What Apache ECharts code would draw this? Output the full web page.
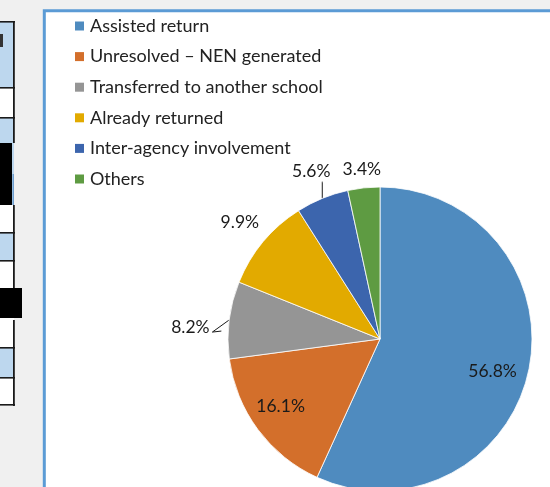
<!DOCTYPE html>
<html>
<head>
<meta charset="utf-8">
<script src="https://cdn.jsdelivr.net/npm/echarts@6/dist/echarts.min.js"></script>
<style>
html,body{margin:0;padding:0;background:#f0f0f0;}
#chart{width:550px;height:487px;}
</style>
</head>
<body>
<div id="chart"></div>
<script>
// ---- data ----
const categories = ['Assisted return', 'Unresolved \u2013 NEN generated', 'Transferred to another school', 'Already returned', 'Inter-agency involvement', 'Others'];
const values = [56.8, 16.1, 8.2, 9.9, 5.6, 3.4];

// ---- styles ----
const colors = ['#4f8bbf', '#d36f2b', '#959595', '#e2aa00', '#3c65ad', '#5e9b42'];
const FONT = 'Lato';
const CX = 380, CY = 339, R = 152;
// label placement: inside/outside, radial factor, small angular turn (deg), leader type
const labelStyle = [
  { pos: 'inside', f: 0.77, turn: 3.6, line: null },
  { pos: 'inside', f: 0.79, turn: 2.4, line: null },
  { pos: 'outside', f: 1.25, turn: -3.6, line: 'tri' },
  { pos: 'outside', f: 1.20, turn: 0, line: null },
  { pos: 'outside', f: 1.19, turn: 0, line: 'up' },
  { pos: 'outside', f: 1.12, turn: 0, line: null }
];

const chart = echarts.init(document.getElementById('chart'), null, { renderer: 'canvas' });

const total = values.reduce((a, b) => a + b, 0);
function midAngle(i) {
  let s = 0;
  for (let k = 0; k < i; k++) s += values[k];
  return (s + values[i] / 2) / total * 360;
}

// decorative left table (part of the screenshot)
const tableGraphics = [];
function rect(x, y, w, h, fill) {
  tableGraphics.push({ type: 'rect', shape: { x, y, width: w, height: h }, style: { fill }, silent: true });
}
const BLUE = '#bdd7ee', WHITE = '#ffffff', INK = '#1a1a1a';
rect(0, 22, 14, 65, BLUE);
rect(0, 88, 14, 29, WHITE);
rect(0, 118, 14, 25, BLUE);
rect(0, 143, 14, 62, BLUE);
rect(0, 205, 14, 27, WHITE);
rect(0, 233, 14, 27, BLUE);
rect(0, 261, 14, 57, WHITE);
rect(0, 318, 14, 29, WHITE);
rect(0, 348, 14, 29, BLUE);
rect(0, 378, 14, 26, WHITE);
[21, 87, 117, 232, 260, 347, 377, 404].forEach(y => rect(0, y, 15, 1.6, INK));
rect(13, 21, 1.8, 122, INK);
rect(13, 205, 1.8, 83, INK);
rect(13, 320, 1.8, 86, INK);
rect(0, 143, 12, 31, '#000000');
rect(0, 174, 12, 31, '#000000');
rect(12.5, 174, 1.5, 31, '#6f9fd0');
rect(0, 288, 22, 30, '#000000');
rect(0, 34, 3, 13, '#333333');

const option = {
  backgroundColor: '#f0f0f0',
  animation: false,
  color: colors,
  graphic: [
    { type: 'rect', z: -10, shape: { x: 44.3, y: 10.7, width: 530, height: 500 },
      style: { fill: '#ffffff', stroke: '#5b9bd5', lineWidth: 3 }, silent: true }
  ].concat(tableGraphics),
  legend: {
    orient: 'vertical',
    left: 70,
    top: 11,
    itemWidth: 9,
    itemHeight: 9,
    itemGap: 10.6,
    icon: 'rect',
    selectedMode: false,
    itemStyle: { borderWidth: 0 },
    textStyle: { fontFamily: FONT, fontSize: 18, color: '#222222', lineHeight: 20, padding: [0, 0, 0, 1] },
    data: categories
  },
  series: [{
    type: 'pie',
    center: [CX, CY],
    radius: R,
    startAngle: 90,
    clockwise: true,
    silent: true,
    emphasis: { disabled: true },
    itemStyle: { borderColor: '#ffffff', borderWidth: 0.8 },
    label: {
      show: true,
      formatter: '{c}%',
      fontFamily: FONT,
      fontSize: 17.5,
      color: '#1a1a1a'
    },
    labelLine: { show: true, lineStyle: { color: '#1a1a1a', width: 1 } },
    data: categories.map((name, i) => ({
      name,
      value: values[i],
      label: { position: labelStyle[i].pos },
      labelLine: { show: labelStyle[i].line !== null }
    })),
    labelLayout: function (p) {
      const i = p.dataIndex;
      const st = labelStyle[i];
      const a = (midAngle(i) + st.turn) * Math.PI / 180;
      const lx = CX + R * st.f * Math.sin(a);
      const ly = CY - R * st.f * Math.cos(a);
      const am = midAngle(i) * Math.PI / 180;
      const ex = CX + R * Math.sin(am);
      const ey = CY - R * Math.cos(am);
      const out = { x: lx, y: ly, align: 'center', verticalAlign: 'middle' };
      if (st.line === 'up') {
        out.labelLinePoints = [[ex, ey], [ex, ly + 11], [ex, ly + 10]];
      } else if (st.line === 'tri') {
        out.labelLinePoints = [[ex, ey], [lx + 22, ly + 5], [lx + 31, ly + 4]];
      }
      return out;
    }
  }]
};
chart.setOption(option);
</script>
</body>
</html>
